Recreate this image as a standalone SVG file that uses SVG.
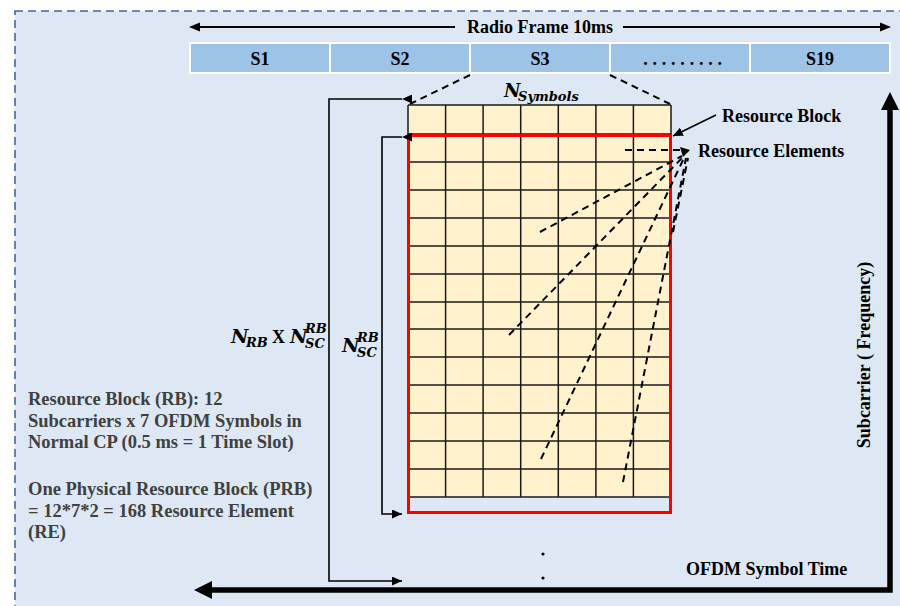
<svg xmlns="http://www.w3.org/2000/svg" width="900" height="606" viewBox="0 0 900 606">
<style>
.t{font-family:"Liberation Serif","Times New Roman",serif;font-weight:bold;font-size:18px;fill:#000}
.g{fill:#404040;font-size:18.5px}
.m{font-family:"DejaVu Serif",serif;font-weight:bold;font-style:italic;fill:#000}
.thin{stroke:#000;stroke-width:1.6;fill:none}
.dash{stroke:#000;stroke-width:2;stroke-dasharray:7 5;fill:none}
.slot{fill:#9dc3e6;stroke:#fff;stroke-width:2}
</style>
<defs>
<marker id="ah" markerUnits="userSpaceOnUse" markerWidth="10" markerHeight="9" refX="10" refY="4.5" orient="auto">
<path d="M0,0 L10,4.5 L0,9 z" fill="#000"/>
</marker>
</defs>
<rect x="0" y="0" width="900" height="606" fill="#ffffff"/>
<rect x="15" y="11" width="900" height="610" fill="#dde8f4" stroke="#41669c" stroke-width="1.6" stroke-dasharray="8 5"/>

<g id="radio-frame">
<line x1="198" y1="27" x2="455" y2="27" stroke="#000" stroke-width="2"/>
<polygon points="189,27 200,22.5 200,31.5" fill="#000"/>
<line x1="623" y1="27" x2="881" y2="27" stroke="#000" stroke-width="2"/>
<polygon points="891,27 880,22.5 880,31.5" fill="#000"/>
<text class="t" x="540" y="33" text-anchor="middle">Radio Frame 10ms</text>
</g>

<g id="slots">
<rect x="190" y="43" width="700" height="31" fill="#fff"/>
<rect class="slot" x="190" y="43" width="140" height="30"/>
<rect class="slot" x="330" y="43" width="140" height="30"/>
<rect class="slot" x="470" y="43" width="140" height="30"/>
<rect class="slot" x="610" y="43" width="140" height="30"/>
<rect class="slot" x="750" y="43" width="140" height="30"/>
<text class="t" x="260" y="65" text-anchor="middle">S1</text>
<text class="t" x="400" y="65" text-anchor="middle">S2</text>
<text class="t" x="540" y="65" text-anchor="middle">S3</text>
<text class="t" x="685" y="65" text-anchor="middle" letter-spacing="4.8">.........</text>
<text class="t" x="820" y="65" text-anchor="middle">S19</text>
</g>

<g id="zoom-lines">
<line class="dash" x1="470" y1="75" x2="410" y2="104"/>
<line class="dash" x1="610" y1="75" x2="670" y2="104"/>
</g>

<g id="n-symbols">
<text class="m" x="504" y="97" font-size="18">N</text>
<text class="m" x="518" y="101" font-size="13">Symbols</text>
</g>

<g id="grid">
<rect x="408" y="105" width="263" height="392" fill="#fff2cc"/>
<path stroke="#1a1a1a" stroke-width="1.5" fill="none" d="M408 105H671M408 134H671M408 162H671M408 190H671M408 218H671M408 246H671M408 274H671M408 302H671M408 329H671M408 357H671M408 385H671M408 413H671M408 441H671M408 469H671M408 497H671M408 105V497M445.6 105V497M483.1 105V497M520.7 105V497M558.3 105V497M595.9 105V497M633.4 105V497M671 105V497"/>
<rect x="408.5" y="135.5" width="262" height="377" fill="none" stroke="#ff0000" stroke-width="3"/>
</g>

<g id="brackets">
<polyline class="thin" points="402,99 329,99 329,581 402,581" marker-start="url(#ah)" marker-end="url(#ah)"/>
<polyline class="thin" points="402,137 382,137 382,514 402,514" marker-start="url(#ah)" marker-end="url(#ah)"/>
</g>

<g id="label-nrb">
<text class="m" x="231" y="343" font-size="19">N</text>
<text class="m" x="246" y="347" font-size="13">RB</text>
<text class="t" x="272" y="343" font-size="19">X</text>
<text class="m" x="290" y="343" font-size="19">N</text>
<text class="m" x="305" y="333" font-size="13">RB</text>
<text class="m" x="305" y="348" font-size="13">SC</text>
</g>

<g id="label-nsc">
<text class="m" x="342" y="352" font-size="19">N</text>
<text class="m" x="357" y="342" font-size="13">RB</text>
<text class="m" x="357" y="357" font-size="13">SC</text>
</g>

<g id="resource-block-label">
<line class="thin" x1="716" y1="115" x2="673" y2="136" marker-end="url(#ah)"/>
<text class="t" x="722" y="122">Resource Block</text>
</g>

<g id="resource-elements-label">
<line class="dash" x1="625" y1="150" x2="680" y2="150"/>
<line class="dash" x1="540" y1="232" x2="682" y2="156"/>
<line class="dash" x1="509" y1="335" x2="683" y2="157"/>
<line class="dash" x1="541" y1="459" x2="684" y2="158"/>
<line class="dash" x1="623" y1="482" x2="686" y2="158"/>
<line class="dash" x1="673" y1="232" x2="688" y2="158"/>
<polygon points="690,150 680,147 683,157" fill="#000"/>
<text class="t" x="698" y="157">Resource Elements</text>
</g>

<g id="axes">
<polyline points="210,590 890,590 890,108" fill="none" stroke="#000" stroke-width="5.5"/>
<polygon points="194,590 212,581 212,599" fill="#000"/>
<polygon points="890,92 881,110 899,110" fill="#000"/>
<text class="t" x="686" y="575">OFDM Symbol Time</text>
<text class="t" font-size="16" transform="translate(870,355) rotate(-90)" text-anchor="middle">Subcarrier ( Frequency)</text>
</g>

<g id="continuation-dots">
<circle cx="543" cy="554" r="1.6" fill="#000"/>
<circle cx="543" cy="578" r="1.6" fill="#000"/>
</g>

<g id="description">
<text class="t g" x="28" y="405">Resource Block (RB): 12</text>
<text class="t g" x="28" y="427">Subcarriers x 7 OFDM Symbols in</text>
<text class="t g" x="28" y="448">Normal CP (0.5 ms = 1 Time Slot)</text>
<text class="t g" x="28" y="495">One Physical Resource Block (PRB)</text>
<text class="t g" x="28" y="517">= 12*7*2 = 168 Resource Element</text>
<text class="t g" x="28" y="538">(RE)</text>
</g>
</svg>
